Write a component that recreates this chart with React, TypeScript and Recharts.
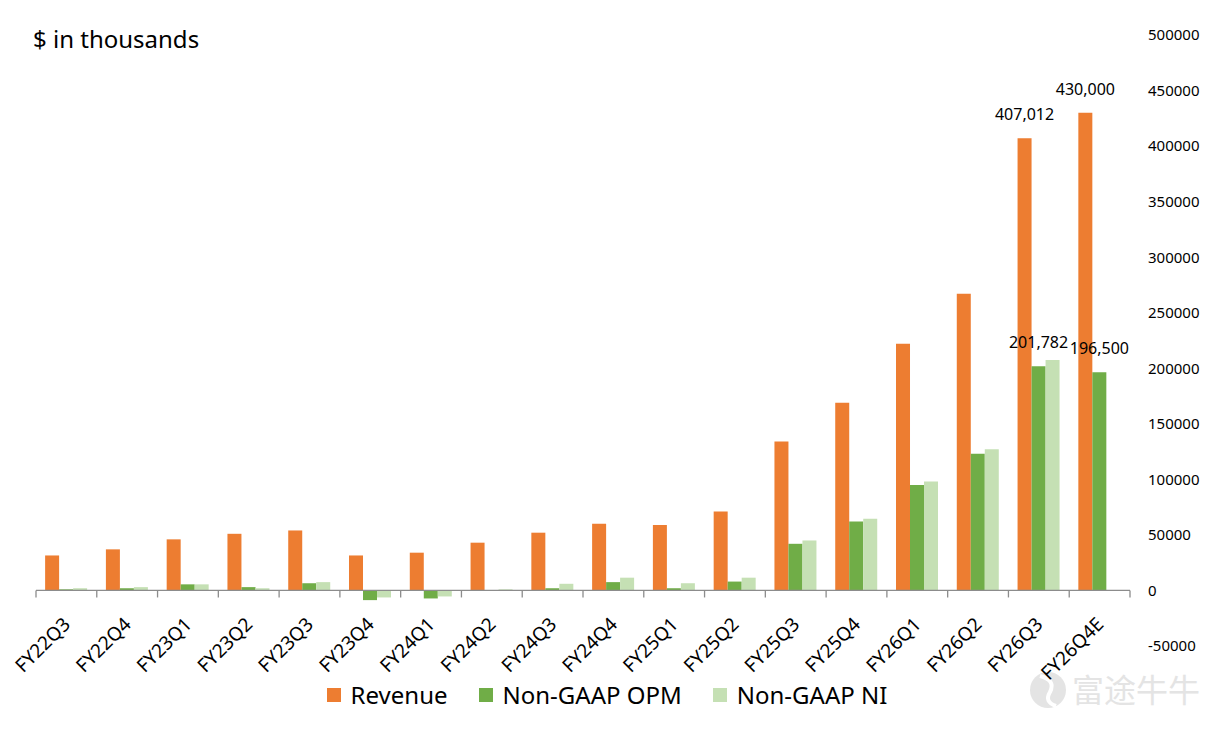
import { Bar, BarChart, LabelList, Legend, ReferenceLine, XAxis, YAxis } from 'recharts';

const categories = [
  'FY22Q3', 'FY22Q4', 'FY23Q1', 'FY23Q2', 'FY23Q3', 'FY23Q4', 'FY24Q1', 'FY24Q2', 'FY24Q3',
  'FY24Q4', 'FY25Q1', 'FY25Q2', 'FY25Q3', 'FY25Q4', 'FY26Q1', 'FY26Q2', 'FY26Q3', 'FY26Q4E',
];
const revenue = [
  31500, 37000, 46000, 51000, 54000, 31500, 34000, 43000, 52000,
  60000, 59000, 71000, 134000, 169000, 222000, 267000, 407012, 430000,
];
const nonGaapOpm = [
  1000, 2000, 5500, 3000, 6500, -8700, -7200, 300, 2000,
  7500, 2000, 8000, 42000, 62000, 95000, 123000, 201782, 196500,
];
const nonGaapNi = [
  2000, 3000, 5500, 2000, 7500, -6300, -5400, 1000, 6000,
  11500, 6500, 11500, 45000, 64500, 98000, 127000, 207500, null,
];
const seriesNames = ['Revenue', 'Non-GAAP OPM', 'Non-GAAP NI'];
const labeledCategories = ['FY26Q3', 'FY26Q4E'];
const yTicks = [-50000, 0, 50000, 100000, 150000, 200000, 250000, 300000, 350000, 400000, 450000, 500000];

const ORANGE = '#ED7D31';
const GREEN = '#70AD47';
const LIGHT_GREEN = '#C5E0B4';
const seriesColors = [ORANGE, GREEN, LIGHT_GREEN];
const FONT = '"Noto Sans", "Open Sans", sans-serif';

const W = 1208;
const H = 731;
const margin = { top: 35, right: 8, bottom: 19, left: 36 };
// y distance from the bottom of the plot (-50000) to the zero line
const ZERO_SHIFT = ((646 - 35) * 50000) / 550000;

const data = categories.map((name, i) => ({
  name,
  revenue: revenue[i],
  opm: nonGaapOpm[i],
  ni: nonGaapNi[i],
}));

function CategoryTick(props: any) {
  const { x, y, payload } = props;
  const ax = x + 5;
  const ay = y - ZERO_SHIFT + 27;
  return (
    <text
      x={ax}
      y={ay}
      transform={`rotate(-45, ${ax}, ${ay})`}
      textAnchor="end"
      fontSize={19}
      fontFamily={FONT}
      fill="#000"
    >
      {payload.value}
    </text>
  );
}

function ZeroAxis(props: any) {
  const { x1, y1, x2 } = props;
  const step = (x2 - x1) / categories.length;
  return (
    <g stroke="#8c8c8c" strokeWidth={1.3}>
      <line x1={x1} y1={y1} x2={x2} y2={y1} />
      {Array.from({ length: categories.length + 1 }, (_, i) => (
        <line key={i} x1={x1 + i * step} y1={y1} x2={x1 + i * step} y2={y1 + 7} />
      ))}
    </g>
  );
}

function ValueLabel(props: any) {
  const { x, y, width, value, index } = props;
  if (!labeledCategories.includes(categories[index])) return null;
  return (
    <text x={x + width / 2} y={y - 18} textAnchor="middle" fontSize={16} fontFamily={FONT} fill="#000">
      {Number(value).toLocaleString('en-US')}
    </text>
  );
}

function LegendContent() {
  return (
    <div
      style={{
        display: 'flex',
        justifyContent: 'center',
        gap: 31,
        height: 34,
        lineHeight: '34px',
        fontFamily: FONT,
        fontSize: 24,
        color: '#000',
        paddingLeft: 6,
      }}
    >
      {seriesNames.map((name, i) => (
        <div key={name} style={{ display: 'flex', alignItems: 'center' }}>
          <span
            style={{ width: 14, height: 14, background: seriesColors[i], marginRight: 10, display: 'inline-block' }}
          />
          {name}
        </div>
      ))}
    </div>
  );
}

export default function App() {
  return (
    <div style={{ position: 'absolute', left: 0, top: 0, width: W, height: H, background: '#fff' }}>
      <div
        style={{
          position: 'absolute',
          left: 33,
          top: 24,
          lineHeight: '30px',
          fontSize: 24,
          fontFamily: FONT,
          color: '#000',
        }}
      >
        $ in thousands
      </div>
      <BarChart width={W} height={H} data={data} margin={margin} barCategoryGap="15%" barGap={0}>
        <XAxis
          dataKey="name"
          height={32}
          axisLine={false}
          tickLine={false}
          interval={0}
          tick={<CategoryTick />}
        />
        <YAxis
          orientation="right"
          width={70}
          domain={[-50000, 500000]}
          ticks={yTicks}
          axisLine={false}
          tickLine={false}
          tickMargin={12}
          tick={{ fontSize: 15, fill: '#000', fontFamily: FONT }}
        />
        <ReferenceLine y={0} shape={<ZeroAxis />} />
        <Bar dataKey="revenue" name={seriesNames[0]} fill={ORANGE} isAnimationActive={false}>
          <LabelList dataKey="revenue" content={<ValueLabel />} />
        </Bar>
        <Bar dataKey="opm" name={seriesNames[1]} fill={GREEN} isAnimationActive={false}>
          <LabelList dataKey="opm" content={<ValueLabel />} />
        </Bar>
        <Bar dataKey="ni" name={seriesNames[2]} fill={LIGHT_GREEN} isAnimationActive={false} />
        <Legend
          verticalAlign="bottom"
          content={<LegendContent />}
          wrapperStyle={{ left: 0, width: W }}
        />
        <circle cx={1048} cy={690} r={18} fill="#e4e4e4" />
        <path d="M1040 676 Q1056 680 1050 692 Q1044 702 1056 706" fill="none" stroke="#fff" strokeWidth={4} />
        <text x={1072} y={702} fontSize={32} fill="#e4e4e4" fontFamily='"Noto Sans CJK SC", sans-serif'>
          富途牛牛
        </text>
      </BarChart>
    </div>
  );
}
